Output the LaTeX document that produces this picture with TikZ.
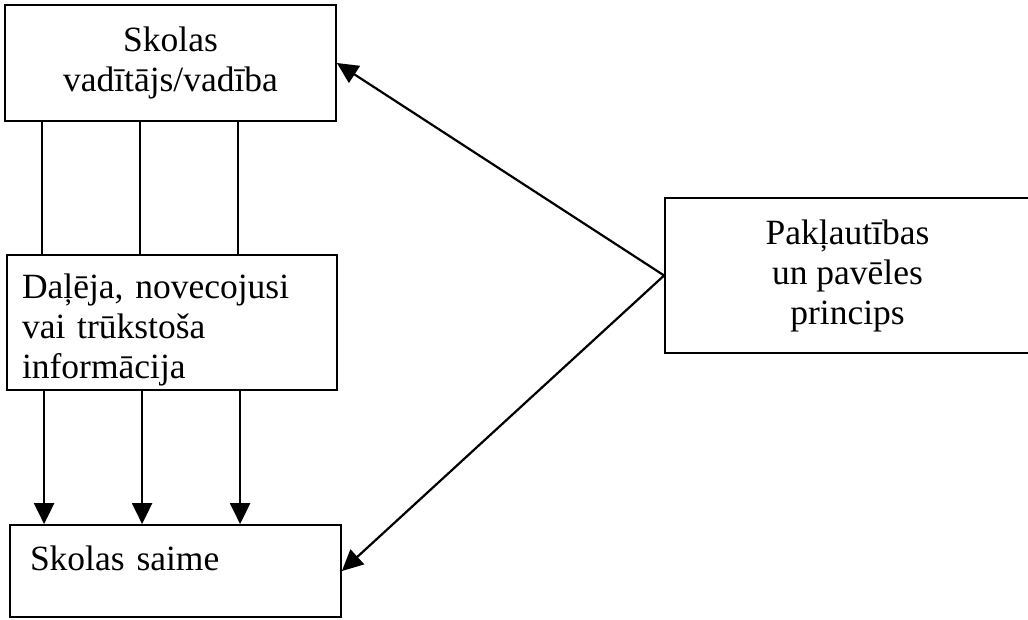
\documentclass[tikz,border=0pt]{standalone}
\usepackage{fontspec}
\setmainfont{Liberation Serif}
\usetikzlibrary{arrows.meta,calc}
\begin{document}
\begin{tikzpicture}[x=1pt,y=-1pt,
  box/.style={draw, line width=1.8pt, inner sep=0pt,
    font=\fontsize{35.5}{40}\selectfont},
  link/.style={line width=2.4pt},
  flow/.style={line width=2.2pt, -{Triangle[length=21pt,width=20pt]}},
]
\clip (0,0) rectangle (1028,619);

% boxes
\node[box, minimum width=331pt, minimum height=116pt, align=center]
  (lead) at (170.5,63) {Skolas\\vadītājs/vadība};
\node[box, minimum width=330pt, minimum height=135pt, text width=300pt,
  text height=39pt, align=left]
  (info) at (172,322.5) {Daļēja, novecojusi\\vai trūkstoša\\informācija};
\node[box, minimum width=331pt, minimum height=92pt, text width=291pt, text depth=26pt, align=left]
  (fam) at (175.5,571) {Skolas saime};
\node[box, minimum width=365pt, minimum height=155pt, align=center]
  (rule) at (847.5,275.5) {Pakļautības\\un pavēles\\princips};

% plain links between management and information
\foreach \a/\b in {38/36, 136/134, 234/232}
  \draw[link] ($(lead.south west)+(\a,0)$) -- ($(info.north west)+(\b,0)$);

% arrows from information down to the school family
\foreach \a/\b in {38/35, 136/133, 234/231}
  \draw[flow] ($(info.south west)+(\a,0)$) -- ($(fam.north west)+(\b,0)$);

% principle box pointing to both ends
\draw[flow] (rule.west) -- (lead.east);
\draw[flow] (rule.west) -- (fam.east);
\end{tikzpicture}
\end{document}
